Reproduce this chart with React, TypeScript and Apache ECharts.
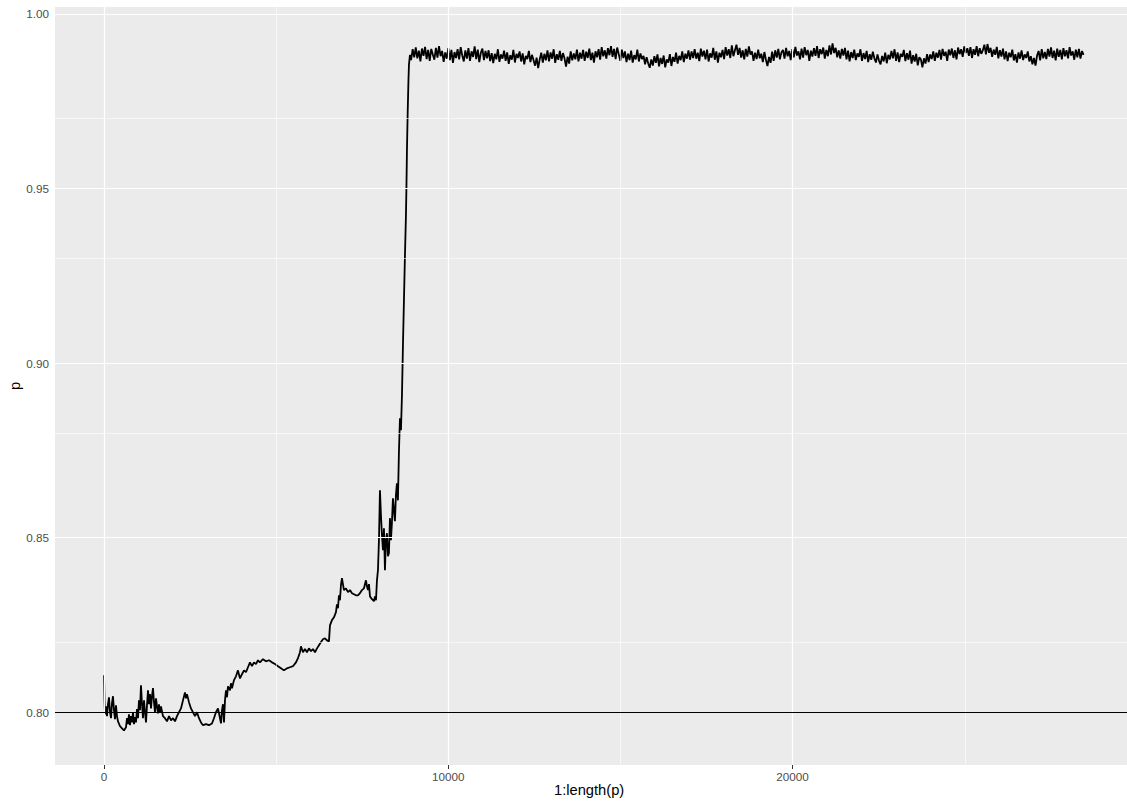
import React, { useEffect, useRef } from "react";
import * as echarts from "echarts";

// Early part of the trace (index along 1:length(p), value p)
const earlyIndex = [1,15,29,58,87,116,145,174,203,232,261,290,319,348,377,407,465,523,581,639,668,697,726,755,784,813,842,871,900,929,958,987,1016,1045,1074,1103,1132,1162,1191,1220,1249,1278,1307,1336,1365,1394,1423,1452,1481,1510,1539,1568,1597,1626,1655,1713,1771,1830,1888,1946,2004,2062,2120,2178,2236,2294,2352,2381,2410,2468,2526,2584,2643,2701,2759,2817,2875,2962,3049,3136,3194,3252,3311,3369,3398,3427,3456,3485,3514,3543,3572,3601,3659,3688,3717,3775,3833,3891,3949,4008,4066,4124,4182,4240,4298,4356,4414,4472,4530,4617,4704,4791,4879,4966,5053,5140,5227,5314,5401,5488,5576,5634,5692,5721,5779,5837,5895,5953,6012,6070,6128,6186,6244,6302,6360,6418,6476,6534,6563,6621,6679,6737,6766,6795,6824,6853,6882,6911,6940,6969,7028,7086,7144,7202,7260,7318,7376,7434,7492,7550,7608,7637,7667,7696,7725,7783,7841,7870,7899,7928,7957,7986,8015,8044,8073,8102,8131,8160,8189,8218,8247,8276,8305,8334,8363,8392,8421,8450,8479,8508,8537,8566,8596,8625,8654,8683,8712,8741,8770,8785,8799,8820,8843,8857,8886];
const earlyP = [0.8106,0.8034,0.7994,0.8017,0.7989,0.8023,0.8043,0.8000,0.7983,0.8026,0.8046,0.8006,0.7980,0.8020,0.7989,0.7974,0.7960,0.7954,0.7948,0.7957,0.7983,0.7966,0.7994,0.7963,0.7989,0.7971,0.8000,0.7966,0.7986,0.7971,0.8009,0.7983,0.8034,0.8006,0.8077,0.8026,0.7983,0.8034,0.8000,0.7971,0.8020,0.8063,0.8023,0.8052,0.8011,0.8046,0.8069,0.8029,0.8000,0.8040,0.8017,0.7997,0.8023,0.8000,0.8017,0.7989,0.7983,0.7974,0.7989,0.7977,0.7983,0.7974,0.7989,0.8000,0.8011,0.8034,0.8057,0.8040,0.8052,0.8029,0.8011,0.8000,0.7989,0.8000,0.7983,0.7971,0.7963,0.7966,0.7963,0.7968,0.7983,0.8000,0.8011,0.7983,0.7968,0.8006,0.8023,0.7971,0.8034,0.8063,0.8043,0.8074,0.8063,0.8083,0.8069,0.8092,0.8103,0.8120,0.8097,0.8109,0.8120,0.8115,0.8129,0.8143,0.8132,0.8143,0.8138,0.8149,0.8143,0.8152,0.8146,0.8149,0.8143,0.8138,0.8132,0.8126,0.8120,0.8126,0.8129,0.8132,0.8143,0.8155,0.8172,0.8189,0.8172,0.8181,0.8172,0.8183,0.8175,0.8181,0.8172,0.8183,0.8192,0.8201,0.8209,0.8212,0.8206,0.8203,0.8249,0.8264,0.8272,0.8287,0.8309,0.8298,0.8335,0.8321,0.8364,0.8384,0.8367,0.8350,0.8355,0.8344,0.8350,0.8341,0.8338,0.8335,0.8335,0.8341,0.8350,0.8355,0.8378,0.8361,0.8350,0.8367,0.8332,0.8324,0.8318,0.8332,0.8321,0.8378,0.8407,0.8493,0.8636,0.8564,0.8507,0.8464,0.8527,0.8407,0.8493,0.8513,0.8447,0.8456,0.8556,0.8493,0.8544,0.8613,0.8579,0.8547,0.8622,0.8656,0.8607,0.8745,0.8842,0.8808,0.8908,0.9052,0.9181,0.9309,0.9424,0.9510,0.9610,0.9716,0.9811,0.9854,0.9883];

// Plateau part: consecutive readings every 45 indices starting at 8920
const plateauStart = 8920;
const plateauStep = 45;
const plateauP = [
0.9868,0.9899,0.9876,0.9904,0.9873,0.9895,0.9864,0.9901,0.9880,0.9906,
0.9871,0.9897,0.9866,0.9900,0.9884,0.9869,0.9903,0.9875,0.9908,0.9879,
0.9894,0.9863,0.9890,0.9872,0.9902,0.9868,0.9897,0.9860,0.9891,0.9874,
0.9899,0.9870,0.9905,0.9881,0.9864,0.9896,0.9872,0.9902,0.9866,0.9893,
0.9877,0.9907,0.9871,0.9898,0.9862,0.9889,0.9901,0.9868,0.9894,0.9873,
0.9896,0.9865,0.9888,0.9859,0.9886,0.9870,0.9899,0.9863,0.9884,0.9872,
0.9895,0.9866,0.9890,0.9857,0.9882,0.9869,0.9897,0.9861,0.9886,0.9874,
0.9893,0.9864,0.9887,0.9856,0.9880,0.9871,0.9894,0.9862,0.9883,0.9868,
0.9852,0.9875,0.9845,0.9870,0.9889,0.9861,0.9886,0.9867,0.9896,0.9864,
0.9890,0.9872,0.9899,0.9860,0.9885,0.9869,0.9894,0.9866,0.9888,0.9873,
0.9849,0.9878,0.9858,0.9893,0.9867,0.9887,0.9870,0.9898,0.9864,0.9889,
0.9872,0.9897,0.9866,0.9892,0.9874,0.9901,0.9868,0.9889,0.9861,0.9893,
0.9876,0.9899,0.9869,0.9905,0.9879,0.9896,0.9872,0.9902,0.9882,0.9908,
0.9877,0.9900,0.9871,0.9904,0.9885,0.9866,0.9898,0.9874,0.9893,0.9862,
0.9886,0.9868,0.9895,0.9861,0.9882,0.9870,0.9898,0.9864,0.9887,0.9871,
0.9880,0.9856,0.9876,0.9859,0.9846,0.9870,0.9852,0.9879,0.9860,0.9884,
0.9850,0.9874,0.9857,0.9881,0.9847,0.9870,0.9861,0.9885,0.9851,0.9877,
0.9863,0.9889,0.9858,0.9880,0.9868,0.9893,0.9862,0.9886,0.9872,0.9896,
0.9869,0.9893,0.9874,0.9899,0.9872,0.9889,0.9865,0.9901,0.9878,0.9895,
0.9870,0.9898,0.9864,0.9887,0.9875,0.9903,0.9869,0.9893,0.9861,0.9889,
0.9876,0.9897,0.9871,0.9905,0.9881,0.9899,0.9874,0.9910,0.9879,0.9896,
0.9912,0.9883,0.9903,0.9875,0.9896,0.9870,0.9900,0.9878,0.9907,0.9884,
0.9893,0.9866,0.9889,0.9871,0.9898,0.9873,0.9886,0.9862,0.9891,0.9869,
0.9851,0.9877,0.9860,0.9892,0.9866,0.9896,0.9875,0.9900,0.9870,0.9890,
0.9897,0.9872,0.9903,0.9879,0.9894,0.9868,0.9899,0.9876,0.9906,0.9881,
0.9893,0.9870,0.9901,0.9875,0.9905,0.9882,0.9897,0.9866,0.9895,0.9878,
0.9902,0.9880,0.9908,0.9874,0.9899,0.9885,0.9904,0.9872,0.9897,0.9879,
0.9910,0.9884,0.9916,0.9888,0.9903,0.9876,0.9896,0.9872,0.9900,0.9881,
0.9903,0.9870,0.9895,0.9864,0.9891,0.9874,0.9898,0.9868,0.9887,0.9877,
0.9899,0.9866,0.9888,0.9871,0.9894,0.9862,0.9885,0.9869,0.9892,0.9873,
0.9861,0.9884,0.9866,0.9856,0.9880,0.9864,0.9889,0.9859,0.9883,0.9870,
0.9894,0.9873,0.9899,0.9866,0.9890,0.9862,0.9886,0.9877,0.9897,0.9865,
0.9888,0.9869,0.9895,0.9858,0.9882,0.9864,0.9886,0.9853,0.9876,0.9870,
0.9847,0.9873,0.9858,0.9885,0.9862,0.9884,0.9871,0.9893,0.9866,0.9889,
0.9875,0.9897,0.9869,0.9900,0.9880,0.9892,0.9866,0.9898,0.9882,0.9901,
0.9874,0.9896,0.9870,0.9904,0.9885,0.9899,0.9877,0.9907,0.9888,0.9902,
0.9880,0.9905,0.9874,0.9899,0.9883,0.9908,0.9879,0.9902,0.9886,0.9896,
0.9912,0.9884,0.9914,0.9889,0.9903,0.9877,0.9898,0.9883,0.9906,0.9873,
0.9896,0.9878,0.9901,0.9870,0.9893,0.9865,0.9889,0.9876,0.9898,0.9867,
0.9885,0.9861,0.9890,0.9872,0.9896,0.9868,0.9884,0.9874,0.9893,0.9864,
0.9879,0.9856,0.9874,0.9852,0.9881,0.9894,0.9867,0.9899,0.9873,0.9891,
0.9871,0.9900,0.9878,0.9904,0.9874,0.9895,0.9867,0.9901,0.9877,0.9897,
0.9870,0.9902,0.9879,0.9896,0.9873,0.9905,0.9881,0.9893,0.9869,0.9898,
0.9876,0.9900,0.9872,0.9894,0.9883
];

const xTicks = [0, 10000, 20000];
const xMinor = [5000, 15000, 25000];
const yTicks = [0.8, 0.85, 0.9, 0.95, 1.0];
const yMinor = [0.825, 0.875, 0.925, 0.975];
const refLine = 0.8;

const FONT = "'Liberation Sans', Arial, Helvetica, sans-serif";

export default function App() {
  const ref = useRef<HTMLDivElement>(null);
  useEffect(() => {
    if (!ref.current) return;
    const chart = echarts.init(ref.current, undefined, { renderer: "svg" });
    const data: [number, number][] = [];
    earlyIndex.forEach((x, i) => {
      if (earlyP[i] !== undefined) data.push([x, earlyP[i]]);
    });
    plateauP.forEach((v, i) => data.push([plateauStart + i * plateauStep, v]));

    const gridLines = [
      ...xMinor.map((v) => ({ xAxis: v, lineStyle: { width: 0.6 } })),
      ...yMinor.map((v) => ({ yAxis: v, lineStyle: { width: 0.6 } })),
      ...xTicks.map((v) => ({ xAxis: v, lineStyle: { width: 1.2 } })),
      ...yTicks.map((v) => ({ yAxis: v, lineStyle: { width: 1.2 } })),
    ];

    chart.setOption({
      animation: false,
      backgroundColor: "#FFFFFF",
      textStyle: { fontFamily: FONT },
      grid: {
        left: 55,
        right: 0,
        top: 7,
        bottom: 39,
        show: true,
        backgroundColor: "#EBEBEB",
        borderWidth: 0,
        containLabel: false,
      },
      xAxis: {
        type: "value",
        min: -1423,
        max: 29712,
        axisLine: { show: false },
        splitLine: { show: false },
        axisTick: {
          show: true,
          customValues: xTicks,
          length: 4,
          lineStyle: { color: "#333333", width: 1 },
        },
        axisLabel: {
          customValues: xTicks,
          color: "#4D4D4D",
          fontSize: 11.7,
          margin: 5,
          fontFamily: FONT,
          formatter: (v: number) => String(v),
        },
      },
      yAxis: {
        type: "value",
        min: 0.7849,
        max: 1.002,
        axisLine: { show: false },
        splitLine: { show: false },
        axisTick: {
          show: true,
          customValues: yTicks,
          length: 4,
          lineStyle: { color: "#333333", width: 1 },
        },
        axisLabel: {
          customValues: yTicks,
          color: "#4D4D4D",
          fontSize: 11.7,
          margin: 6,
          fontFamily: FONT,
          formatter: (v: number) => v.toFixed(2),
        },
      },
      graphic: [
        {
          type: "text",
          left: 594 - 40,
          top: 782,
          style: {
            text: "1:length(p)",
            fontSize: 14.7,
            fill: "#000000",
            fontFamily: FONT,
            width: 80,
            align: "center",
          },
          silent: true,
        },
        {
          type: "text",
          x: 15,
          y: 386,
          rotation: Math.PI / 2,
          style: {
            text: "p",
            fontSize: 14.7,
            fill: "#000000",
            fontFamily: FONT,
            align: "center",
            verticalAlign: "middle",
          },
          silent: true,
        },
      ],
      series: [
        {
          type: "line",
          z: 1,
          data: [[0, 0.9]],
          showSymbol: false,
          lineStyle: { opacity: 0 },
          silent: true,
          markLine: {
            silent: true,
            symbol: ["none", "none"],
            label: { show: false },
            lineStyle: { color: "#FFFFFF", type: "solid" },
            data: gridLines,
          },
        },
        {
          type: "line",
          z: 2,
          data,
          showSymbol: false,
          silent: true,
          lineStyle: { color: "#000000", width: 1.8 },
          markLine: {
            silent: true,
            symbol: ["none", "none"],
            label: { show: false },
            lineStyle: { color: "#000000", width: 1.2, type: "solid" },
            data: [{ yAxis: refLine }],
          },
        },
      ],
    });
    return () => chart.dispose();
  }, []);
  return (
    <div
      ref={ref}
      style={{ position: "fixed", left: 0, top: 0, width: 1127, height: 804 }}
    />
  );
}
